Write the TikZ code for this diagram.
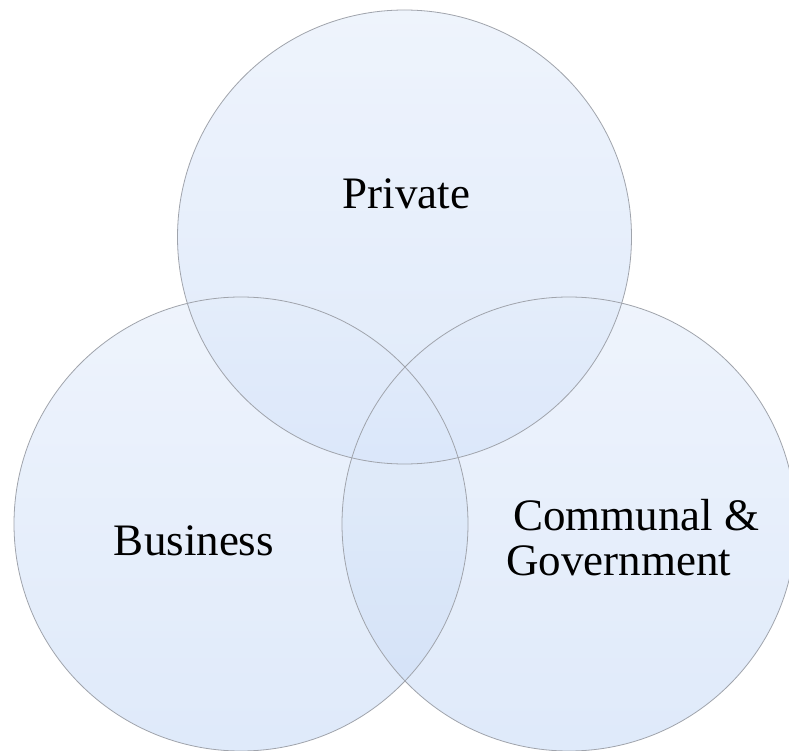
\documentclass[tikz,border=0pt]{standalone}
\usepackage{fontspec}
\setmainfont{Liberation Serif}
\begin{document}
\begin{tikzpicture}[x=1pt,y=-1pt,
  vennfill/.style={top color=vtop,bottom color=vbot,fill opacity=0.6,draw=none},
  vennline/.style={draw=vline,line width=0.8pt},
  vlabel/.style={anchor=base,inner sep=0pt,font=\fontsize{45}{45}\selectfont,text=black}]
\definecolor{vtop}{RGB}{228,237,251}
\definecolor{vbot}{RGB}{202,220,247}
\definecolor{vline}{RGB}{160,164,172}
\useasboundingbox[fill=white] (0,0) rectangle (789,751);
\coordinate (cP) at (404.5,237);
\coordinate (cB) at (241,524);
\coordinate (cC) at (569,524);
\shade[vennfill] (cP) circle[radius=227pt];
\shade[vennfill] (cB) circle[radius=227pt];
\shade[vennfill] (cC) circle[radius=227pt];
\draw[vennline] (cP) circle[radius=227pt];
\draw[vennline] (cB) circle[radius=227pt];
\draw[vennline] (cC) circle[radius=227pt];
\node[vlabel] (private) at (406.5,209) {Private};
\node[vlabel] (business) at (194,555) {Business};
\node[vlabel,anchor=base west] (communal) at (513,530) {Communal \&};
\node[vlabel,anchor=base west] (government) at (506,575) {Government};
\end{tikzpicture}
\end{document}
